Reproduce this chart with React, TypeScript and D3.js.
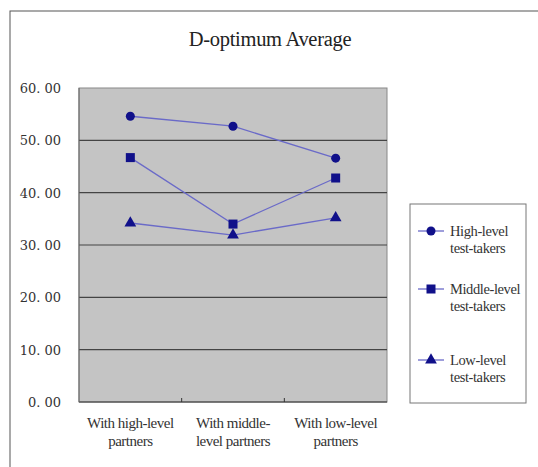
import React from "react";
import * as d3 from "d3";

const categories = [["With high-level", "partners"], ["With middle-", "level partners"], ["With low-level", "partners"]];
const seriesNames = [["High-level", "test-takers"], ["Middle-level", "test-takers"], ["Low-level", "test-takers"]];
const highValues = [54.6, 52.7, 46.6];
const middleValues = [46.7, 34.0, 42.8];
const lowValues = [34.2, 31.9, 35.2];
const yTicks = [0, 10, 20, 30, 40, 50, 60];
const markerTypes = ["circle", "square", "triangle"];

const W = 538, H = 467;
const plot = { left: 79, right: 387, top: 88, bottom: 402 };

export default function App() {
  const x = d3.scaleBand<number>().domain([0, 1, 2]).range([plot.left, plot.right]);
  const y = d3.scaleLinear().domain([0, 60]).range([plot.bottom, plot.top]);
  const series = [highValues, middleValues, lowValues];
  const line = d3.line<number>().x((_, i) => x(i)! + x.bandwidth() / 2).y(d => y(d));
  const markerColor = "#10108a";
  const lineColor = "#6a6ac8";
  const serif = { fontFamily: "'Liberation Serif', 'Times New Roman', serif" };
  const tickFont = { fontFamily: "'DejaVu Serif', serif" };

  const marker = (type: string, cx: number, cy: number, key: string) => {
    if (type === "circle") return <circle key={key} cx={cx} cy={cy} r={4.5} fill={markerColor} />;
    if (type === "square") return <rect key={key} x={cx - 4.5} y={cy - 4.5} width={9} height={9} fill={markerColor} />;
    const p = d3.symbol(d3.symbolTriangle, 60)()!;
    return <path key={key} d={p} transform={`translate(${cx},${cy})`} fill={markerColor} />;
  };

  const legendY = [231, 289, 360];

  return (
    <svg width={W} height={H} style={{ position: "absolute", left: 0, top: 0, background: "#fff" }}>
      <rect x={10} y={11} width={600} height={600} fill="#fff" stroke="#555" strokeWidth={1} />
      <text x={270} y={46} textAnchor="middle" style={serif} fontSize={20.5} fill="#222" letterSpacing={-0.3}>D-optimum Average</text>
      <rect x={plot.left} y={plot.top} width={plot.right - plot.left} height={plot.bottom - plot.top} fill="#c4c4c4" stroke="#888" />
      {yTicks.filter(t => t > 0 && t < 60).map(t => (
        <line key={t} x1={plot.left} x2={plot.right} y1={y(t)} y2={y(t)} stroke="#444" strokeWidth={1.2} />
      ))}
      <line x1={plot.left} x2={plot.right} y1={plot.bottom} y2={plot.bottom} stroke="#333" strokeWidth={1.2} />
      <line x1={plot.left} x2={plot.left} y1={plot.top} y2={plot.bottom} stroke="#666" />
      {[1, 2].map(i => (
        <line key={i} x1={x(i)!} x2={x(i)!} y1={plot.bottom} y2={plot.bottom - 4} stroke="#333" />
      ))}
      {yTicks.map(t => (
        <text key={t} x={61} y={y(t) + 5} textAnchor="end" style={tickFont} fontSize={13} fill="#333">
          {t.toFixed(2).replace(".", ". ")}
        </text>
      ))}
      {categories.map((c, i) => (
        <text key={i} textAnchor="middle" style={serif} fontSize={15} fill="#333" letterSpacing={-0.5}>
          <tspan x={x(i)! + x.bandwidth() / 2} y={428}>{c[0]}</tspan>
          <tspan x={x(i)! + x.bandwidth() / 2} y={446}>{c[1]}</tspan>
        </text>
      ))}
      {series.map((s, si) => (
        <g key={si}>
          <path d={line(s)!} fill="none" stroke={lineColor} strokeWidth={1.3} />
          {s.map((v, i) => marker(markerTypes[si], x(i)! + x.bandwidth() / 2, y(v), `${si}-${i}`))}
        </g>
      ))}
      <rect x={410} y={204} width={116} height={199} fill="#fff" stroke="#777" />
      {seriesNames.map((n, i) => (
        <g key={i}>
          <line x1={418} x2={444} y1={legendY[i]} y2={legendY[i]} stroke={lineColor} strokeWidth={1.3} />
          {marker(markerTypes[i], 431, legendY[i], `l${i}`)}
          <text style={serif} fontSize={14.5} fill="#333" letterSpacing={-0.4}>
            <tspan x={450} y={legendY[i] + 5}>{n[0]}</tspan>
            <tspan x={450} y={legendY[i] + 22}>{n[1]}</tspan>
          </text>
        </g>
      ))}
    </svg>
  );
}
